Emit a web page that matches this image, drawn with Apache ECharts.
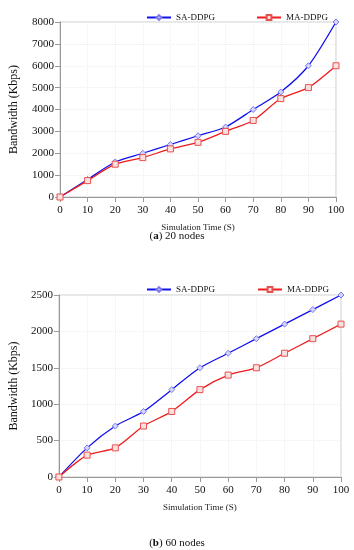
<!DOCTYPE html>
<html><head><meta charset="utf-8">
<script src="https://cdn.jsdelivr.net/npm/echarts@6/dist/echarts.min.js"></script>
<style>html,body{margin:0;padding:0;background:#fff}#c{width:354px;height:550px}</style>
</head><body><div id="c"></div>
<script>
const xTicks = [0,10,20,30,40,50,60,70,80,90,100];
const saA = [0,800,1600,2000,2400,2800,3200,4000,4800,6000,8000];
const maA = [0,750,1500,1800,2200,2500,3000,3500,4500,5000,6000];
const saB = [0,400,700,900,1200,1500,1700,1900,2100,2300,2500];
const maB = [0,300,400,700,900,1200,1400,1500,1700,1900,2100];
const serif = 'Liberation Serif';
const blue = '#1010ee', red = '#ee1c1c';
function pairs(arr){ return arr.map((v,i)=>[xTicks[i],v]); }
const chart = echarts.init(document.getElementById('c'));
function xAxis(idx){
  return {type:'value', gridIndex:idx, min:0, max:100, interval:10,
    name:'Simulation Time (S)', nameLocation:'middle', nameGap:idx===0?26:26,
    nameTextStyle:{fontFamily:serif,fontSize:9,color:'#222'},
    axisLine:{lineStyle:{color:'#999'}}, axisTick:{show:true,lineStyle:{color:'#999'}},
    axisLabel:{fontFamily:serif,fontSize:11,color:'#111',margin:8,formatter:v=>String(v)},
    splitLine:{show:true,lineStyle:{color:'#eee',type:'dotted'}}};
}
function yAxis(idx,max,interval){
  return {type:'value', gridIndex:idx, min:0, max:max, interval:interval,
    name:'Bandwidth (Kbps)', nameLocation:'middle', nameGap:idx===0?40:37,
    nameTextStyle:{fontFamily:serif,fontSize:12,color:'#111'},
    axisLine:{show:true,lineStyle:{color:'#999'}}, axisTick:{show:true,lineStyle:{color:'#999'}},
    axisLabel:{fontFamily:serif,fontSize:11,color:'#111',margin:6,formatter:v=>String(v)},
    splitLine:{show:true,lineStyle:{color:'#eee',type:'dotted'}}};
}
function ser(name,data,idx,color,sym){
  return {name:name,type:'line',xAxisIndex:idx,yAxisIndex:idx,data:pairs(data),smooth:0.25,
    symbol:sym,symbolSize:6,
    lineStyle:{color:color,width:1.3},
    itemStyle:{color:sym==='diamond'?'#d4d4f8':'#fbe0e0',borderColor:sym==='diamond'?'#7a7aee':'#e85050',borderWidth:1},
    emphasis:{disabled:true}};
}
function legend(name,left,top){
  return {data:[name],left:left,top:top,itemWidth:24,itemHeight:6,itemGap:4,
    textStyle:{fontFamily:serif,fontSize:9,color:'#111'}};
}
chart.setOption({
  animation:false,
  grid:[
    {left:58,right:18,top:22,height:175,show:true,borderColor:'#ccc',borderWidth:1},
    {left:55,right:13,top:295,height:182,show:true,borderColor:'#ccc',borderWidth:1}
  ],
  xAxis:[xAxis(0),xAxis(1)],
  yAxis:[yAxis(0,8000,1000),yAxis(1,2500,500)],
  legend:[
    legend('SA-DDPG',141,8),
    legend('MA-DDPG',251,8),
    legend('SA-DDPG',141,280),
    legend('MA-DDPG',252,280)
  ],
  title:[
    {text:'({a|a}) 20 nodes',left:'center',top:226,textStyle:{fontFamily:serif,fontSize:11,fontWeight:'normal',color:'#111',rich:{a:{fontFamily:serif,fontSize:11,fontWeight:'bold',color:'#111'}}}},
    {text:'({a|b}) 60 nodes',left:'center',top:533,textStyle:{fontFamily:serif,fontSize:11,fontWeight:'normal',color:'#111',rich:{a:{fontFamily:serif,fontSize:11,fontWeight:'bold',color:'#111'}}}}
  ],
  series:[
    ser('SA-DDPG',saA,0,blue,'diamond'),
    ser('MA-DDPG',maA,0,red,'rect'),
    ser('SA-DDPG',saB,1,blue,'diamond'),
    ser('MA-DDPG',maB,1,red,'rect')
  ]
});
</script></body></html>
